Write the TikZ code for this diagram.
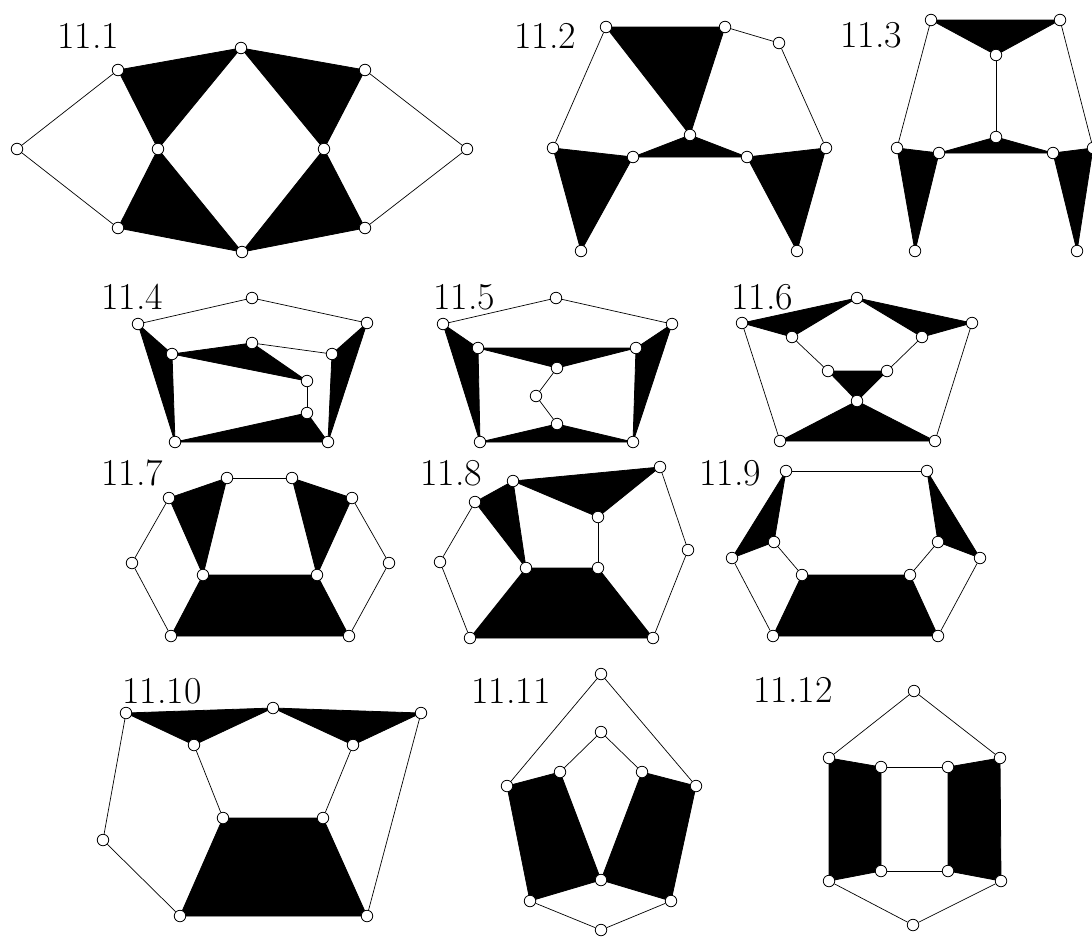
\documentclass[tikz,border=0pt]{standalone}
\usetikzlibrary{backgrounds}
\begin{document}
\begin{tikzpicture}[x=1pt,y=-1pt,
  v/.style={circle,draw=black,fill=white,line width=0.8pt,minimum size=11.5pt,inner sep=0pt},
  e/.style={draw=black,line width=0.7pt},
  blk/.style={fill=black,draw=black,line width=0.8pt,line join=round},
  lab/.style={font=\rmfamily\fontsize{38}{42}\selectfont,inner sep=0pt,anchor=base west}]
\useasboundingbox (0,0) rectangle (1092,940);
% vertices
\foreach \n/\x/\y in {a1/241/48,a2/118/70,a3/365/70,a4/17/149,a5/158/149,a6/324/149,a7/467/149,a8/118/228,a9/365/228,a10/242/252,
 b1/606/27,b2/725/27,b3/779/43,b4/690/135,b5/553/148,b6/633/157,b7/747/157,b8/826/148,b9/581/251,b10/797/251,
 c1/931/20,c2/1060/20,c3/996/55,c4/996/137,c5/897/148,c6/939/153,c7/1053/153,c8/1093/148,c9/915/251,c10/1077/251,
 d1/252/298,d2/138/324,d3/367/323,d4/172/354,d5/252/343,d6/332/354,d7/307/381,d8/307/413,d9/175/442,d10/328/442,
 e1/556/298,e2/443/324,e3/672/324,e4/478/348,e5/636/348,e6/557/368,e7/536/396,e8/557/424,e9/480/442,e10/633/442,
 f1/857/298,f2/742/323,f3/972/323,f4/792/337,f5/922/337,f6/828/371,f7/887/371,f8/857/401,f9/780/441,f10/935/441,
 g1/227/478,g2/292/478,g3/169/498,g4/352/498,g5/132/563,g6/389/563,g7/203/575,g8/317/575,g9/171/636,g10/349/636,
 h1/513/481,h2/660/467,h3/475/502,h4/598/517,h5/440/562,h6/688/550,h7/526/568,h8/598/568,h9/470/638,h10/653/638,
 i1/786/471,i2/927/471,i3/774/542,i4/938/542,i5/732/558,i6/980/558,i7/802/575,i8/910/575,i9/773/636,i10/938/636,
 j1/126/713,j2/273/708,j3/421/713,j4/194/745,j5/353/745,j6/223/818,j7/323/818,j8/103/840,j9/180/916,j10/367/916,
 k1/601/674,k2/601/732,k3/560/772,k4/642/772,k5/507/786,k6/696/786,k7/601/880,k8/530/901,k9/671/901,k10/601/930,
 l1/914/691,l2/829/758,l3/1000/758,l4/881/767,l5/948/767,l6/881/871,l7/948/871,l8/829/881,l9/1001/881,l10/913/925}
  {\node[v] (\n) at (\x,\y) {};}
% labels
\node[lab] (t1) at (57,48) {11.1};
\node[lab] (t2) at (514,48) {11.2};
\node[lab] (t3) at (840,47) {11.3};
\node[lab] (t4) at (101,309) {11.4};
\node[lab] (t5) at (433,309) {11.5};
\node[lab] (t6) at (731,309) {11.6};
\node[lab] (t7) at (101,485) {11.7};
\node[lab] (t8) at (420,485) {11.8};
\node[lab] (t9) at (699,485) {11.9};
\node[lab] (t10) at (122,703) {11.10};
\node[lab] (t11) at (471,703) {11.11};
\node[lab] (t12) at (753,702) {11.12};
\begin{pgfonlayer}{background}
\fill[white] (0,0) rectangle (1092,940);
% black faces
\foreach \p/\q/\r in {a2/a1/a5,a1/a3/a6,a5/a8/a10,a6/a10/a9,
  b1/b2/b4,b4/b6/b7,b5/b6/b9,b7/b8/b10,
  c1/c2/c3,c4/c6/c7,c5/c6/c9,c7/c8/c10,
  d2/d4/d9,d3/d6/d10,d4/d5/d7,d9/d8/d10,
  e2/e4/e9,e3/e5/e10,e4/e5/e6,e9/e8/e10,
  f2/f1/f4,f1/f3/f5,f6/f7/f8,f8/f9/f10,
  g3/g1/g7,g2/g4/g8,h3/h1/h7,h1/h2/h4,
  i1/i3/i5,i2/i4/i6,j1/j2/j4,j2/j3/j5}
  {\draw[blk] (\p.center) -- (\q.center) -- (\r.center) -- cycle;}
\foreach \p/\q/\r/\s in {g7/g8/g10/g9,h7/h8/h10/h9,i7/i8/i10/i9,j6/j7/j10/j9,
  k5/k3/k7/k8,k4/k6/k9/k7,l2/l4/l6/l8,l5/l3/l9/l7}
  {\draw[blk] (\p.center) -- (\q.center) -- (\r.center) -- (\s.center) -- cycle;}
% thin edges
\foreach \p/\q in {a4/a2,a4/a8,a7/a3,a7/a9,
  b1/b5,b2/b3,b3/b8,
  c1/c5,c2/c8,c3/c4,
  d2/d1,d1/d3,d5/d6,d7/d8,
  e2/e1,e1/e3,e6/e7,e7/e8,
  f4/f6,f5/f7,f2/f9,f3/f10,
  g1/g2,g3/g5,g5/g9,g4/g6,g6/g10,
  h3/h5,h5/h9,h2/h6,h6/h10,h4/h8,
  i1/i2,i3/i7,i4/i8,i5/i9,i6/i10,
  j1/j8,j8/j9,j4/j6,j5/j7,j3/j10,
  k1/k5,k1/k6,k2/k3,k2/k4,k8/k10,k9/k10,
  l1/l2,l1/l3,l4/l5,l6/l7,l8/l10,l9/l10}
  {\draw[e] (\p) -- (\q);}
\end{pgfonlayer}
\end{tikzpicture}
\end{document}
